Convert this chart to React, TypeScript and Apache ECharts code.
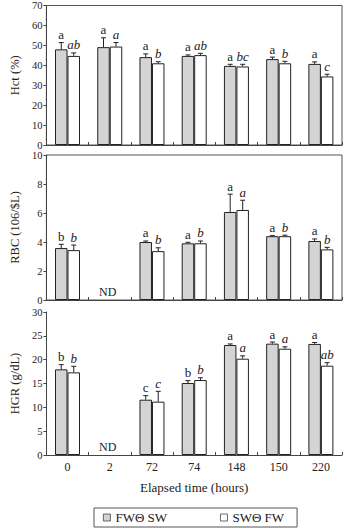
import React, { useEffect, useRef } from "react";
import * as echarts from "echarts";

// Sampling times (hours) and transfer groups
const categories = ["0", "2", "72", "74", "148", "150", "220"];
const groupNames = ["FWΘ SW", "SWΘ FW"];

// Hematocrit (%)
const hctFwSw = [48.0, 49.1, 44.1, 44.7, 39.7, 43.1, 40.7];
const hctFwSwSd = [3.4, 4.7, 1.6, 0.5, 0.8, 1.0, 1.0];
const hctSwFw = [44.7, 49.4, 41.0, 45.1, 39.4, 41.0, 34.4];
const hctSwFwSd = [1.5, 2.0, 0.8, 0.9, 1.1, 1.0, 1.1];
const hctFwSwLetters = ["a", "a", "a", "a", "a", "a", "a"];
const hctSwFwLetters = ["ab", "a", "b", "ab", "bc", "b", "c"];

// Red blood cell count
const rbcFwSw = [3.58, null, 4.0, 3.91, 6.07, 4.4, 4.07];
const rbcFwSwSd = [0.26, null, 0.07, 0.07, 1.23, 0.04, 0.14];
const rbcSwFw = [3.44, null, 3.37, 3.91, 6.21, 4.4, 3.49];
const rbcSwFwSd = [0.35, null, 0.23, 0.16, 0.67, 0.07, 0.14];
const rbcFwSwLetters = ["b", "", "a", "a", "a", "a", "a"];
const rbcSwFwLetters = ["b", "", "b", "b", "a", "b", "b"];

// Hemoglobin (g/dL)
const hgrFwSw = [17.97, null, 11.6, 15.1, 23.08, 23.36, 23.3];
const hgrFwSwSd = [0.98, null, 0.85, 0.5, 0.22, 0.34, 0.3];
const hgrSwFw = [17.34, null, 11.19, 15.73, 20.2, 22.3, 18.74];
const hgrSwFwSd = [1.26, null, 2.17, 0.47, 0.6, 0.4, 0.63];
const hgrFwSwLetters = ["b", "", "c", "b", "a", "a", "a"];
const hgrSwFwLetters = ["b", "", "c", "b", "a", "a", "ab"];

const FONT = "Liberation Serif";
const INK = "#222";
const AXIS = "#444";
const BAR_W = 12.5;

type Panel = {
  yName: string;
  max: number;
  interval: number;
  fw: (number | null)[];
  fwSd: (number | null)[];
  sw: (number | null)[];
  swSd: (number | null)[];
  fwLetters: string[];
  swLetters: string[];
  top: number;
  height: number;
  box: boolean;
  last: boolean;
  labelPad: number[];
};

const panels: Panel[] = [
  { yName: "Hct (%)", max: 70, interval: 10, fw: hctFwSw, fwSd: hctFwSwSd, sw: hctSwFw, swSd: hctSwFwSd, fwLetters: hctFwSwLetters, swLetters: hctSwFwLetters, top: 1, height: 144, box: true, last: false, labelPad: [0, 0, 4, 0] },
  { yName: "RBC (106/$L)", max: 10, interval: 2, fw: rbcFwSw, fwSd: rbcFwSwSd, sw: rbcSwFw, swSd: rbcSwFwSd, fwLetters: rbcFwSwLetters, swLetters: rbcSwFwLetters, top: 155, height: 145, box: true, last: false, labelPad: [6, 0, 0, 0] },
  { yName: "HGR (g/dL)", max: 30, interval: 5, fw: hgrFwSw, fwSd: hgrFwSwSd, sw: hgrSwFw, swSd: hgrSwFwSd, fwLetters: hgrFwSwLetters, swLetters: hgrSwFwLetters, top: 312, height: 143, box: false, last: true, labelPad: [3, 0, 0, 0] },
];

// Upward error bar with cap, plus the significance letter above it
function errorSeries(k: number, values: (number | null)[], sds: (number | null)[], letters: string[], side: number, italic: boolean) {
  const data = values
    .map((v, i) => (v == null ? null : [i, v, sds[i] ?? 0]))
    .filter((d) => d !== null);
  return {
    type: "custom",
    name: groupNames[side < 0 ? 0 : 1] + " sd",
    xAxisIndex: k,
    yAxisIndex: k,
    z: 5,
    data,
    renderItem: (_params: any, api: any) => {
      const i = api.value(0);
      const v = api.value(1);
      const sd = api.value(2);
      const base = api.coord([i, v]);
      const top = api.coord([i, v + sd]);
      const x = base[0] + (side * BAR_W) / 2;
      const cap = 2.5;
      return {
        type: "group",
        children: [
          { type: "line", shape: { x1: x, y1: base[1], x2: x, y2: top[1] }, style: { stroke: INK, lineWidth: 1 } },
          { type: "line", shape: { x1: x - cap, y1: top[1], x2: x + cap, y2: top[1] }, style: { stroke: INK, lineWidth: 1 } },
          {
            type: "text",
            x,
            y: top[1] - 1.5,
            style: {
              text: letters[i],
              fill: INK,
              font: `${italic ? "italic " : ""}13px "${FONT}"`,
              align: "center",
              verticalAlign: "bottom",
            },
          },
        ],
      };
    },
  };
}

// "ND" marker for time points without data
function ndSeries(k: number, values: (number | null)[]) {
  const data = values.map((v, i) => (v == null ? [i, 0] : null)).filter((d) => d !== null);
  return {
    type: "custom",
    name: "ND",
    xAxisIndex: k,
    yAxisIndex: k,
    data,
    renderItem: (_params: any, api: any) => {
      const p = api.coord([api.value(0), api.value(1)]);
      return {
        type: "text",
        x: p[0] - 2,
        y: p[1] - 2,
        style: { text: "ND", fill: INK, font: `12px "${FONT}"`, align: "center", verticalAlign: "bottom" },
      };
    },
  };
}

export default function App() {
  const ref = useRef<HTMLDivElement>(null);

  useEffect(() => {
    if (!ref.current) return;
    const chart = echarts.init(ref.current, null, { renderer: "svg" });

    const grid = panels.map((p) => ({
      left: 37,
      right: 3,
      top: p.top,
      height: p.height,
      show: p.box,
      borderColor: "#555",
      borderWidth: 1,
      backgroundColor: "transparent",
    }));

    const xAxis = panels.map((p, k) => ({
      type: "category",
      gridIndex: k,
      data: categories,
      axisLine: { show: true, lineStyle: { color: AXIS, width: 1 } },
      axisTick: { show: true, inside: true, length: 3, lineStyle: { color: AXIS } },
      axisLabel: { show: p.last, color: INK, fontFamily: FONT, fontSize: 12, margin: 6 },
      name: p.last ? "Elapsed time (hours)" : undefined,
      nameLocation: "middle",
      nameGap: 26,
      nameTextStyle: { color: INK, fontFamily: FONT, fontSize: 13 },
    }));

    const yAxis = panels.map((p, k) => ({
      type: "value",
      gridIndex: k,
      min: 0,
      max: p.max,
      interval: p.interval,
      splitLine: { show: false },
      axisLine: { show: true, lineStyle: { color: AXIS, width: 1 } },
      axisTick: { show: true, length: 3, lineStyle: { color: AXIS } },
      axisLabel: {
        color: INK,
        fontFamily: FONT,
        fontSize: 10.5,
        margin: 4,
        padding: p.labelPad,
      },
      name: p.yName,
      nameLocation: "middle",
      nameRotate: 90,
      nameGap: 21,
      nameTextStyle: { color: INK, fontFamily: FONT, fontSize: 12.5 },
    }));

    const series: any[] = [];
    panels.forEach((p, k) => {
      series.push({
        type: "bar",
        name: groupNames[0],
        xAxisIndex: k,
        yAxisIndex: k,
        data: p.fw.map((v) => (v == null ? "-" : v)),
        barWidth: BAR_W,
        barGap: "0%",
        itemStyle: { color: "#d4d4d4", borderColor: INK, borderWidth: 1 },
      });
      series.push({
        type: "bar",
        name: groupNames[1],
        xAxisIndex: k,
        yAxisIndex: k,
        data: p.sw.map((v) => (v == null ? "-" : v)),
        barWidth: BAR_W,
        barGap: "0%",
        itemStyle: { color: "#ffffff", borderColor: INK, borderWidth: 1 },
      });
      series.push(errorSeries(k, p.fw, p.fwSd, p.fwLetters, -1, false));
      series.push(errorSeries(k, p.sw, p.swSd, p.swLetters, 1, true));
      series.push(ndSeries(k, p.fw));
    });

    chart.setOption({
      animation: false,
      backgroundColor: "#ffffff",
      grid,
      xAxis,
      yAxis,
      legend: {
        data: groupNames,
        icon: "rect",
        left: 94,
        top: 508,
        padding: [3, 13, 3, 9],
        itemWidth: 7,
        itemHeight: 7,
        itemGap: 53,
        borderColor: "#555",
        borderWidth: 1,
        itemStyle: { borderColor: "#444", borderWidth: 0.8 },
        textStyle: { color: INK, fontFamily: FONT, fontSize: 13 },
        selectedMode: false,
      },
      series,
    });

    return () => chart.dispose();
  }, []);

  return (
    <div
      ref={ref}
      style={{ position: "absolute", left: 0, top: 0, width: 345, height: 528 }}
    />
  );
}
